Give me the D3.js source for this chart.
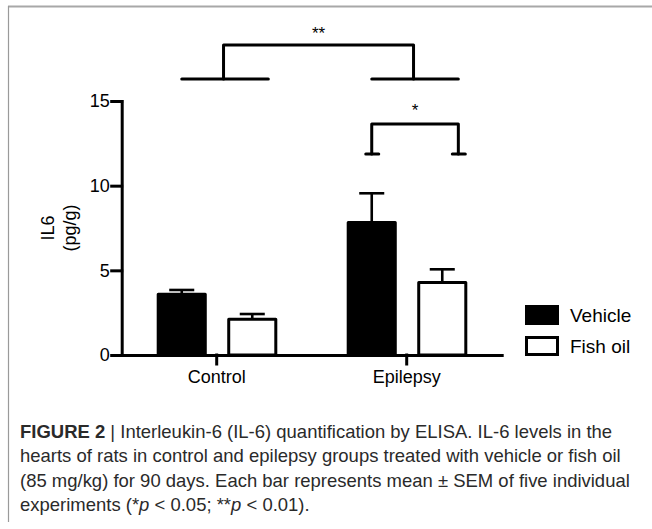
<!DOCTYPE html>
<html>
<head>
<meta charset="utf-8">
<script src="https://cdn.jsdelivr.net/npm/d3@7"></script>
<style>
  body { margin: 0; background: #fff; }
  svg { display: block; }
</style>
</head>
<body>
<svg id="canvas" width="652" height="529"></svg>
<script>
// values (pg/g)
let groups = ['Control', 'Epilepsy']
let series = ['Vehicle', 'Fish oil']
let vehicleMean = [3.68, 7.91]
let vehicleSem = [0.16, 1.64]
let fishOilMean = [2.20, 4.37]
let fishOilSem = [0.22, 0.69]
let yTicks = [0, 5, 10, 15]

// caption, one list of [text, kind] per line
let captionLines = [
  [['FIGURE 2', 'b'], [' | Interleukin-6 (IL-6) quantification by ELISA. IL-6 levels in the', 'n']],
  [['hearts of rats in control and epilepsy groups treated with vehicle or fish oil', 'n']],
  [['(85 mg/kg) for 90 days. Each bar represents mean \u00b1 SEM of five individual', 'n']],
  [['experiments (*', 'n'], ['p', 'i'], [' < 0.05; **', 'n'], ['p', 'i'], [' < 0.01).', 'n']]
]

let canvas = d3.select('#canvas')
let chartFont = '"Liberation Sans", Arial, sans-serif'

// frame
canvas.append('line').attr('x1', 8).attr('x2', 652).attr('y1', 6.5).attr('y2', 6.5)
  .attr('stroke', '#a8a8a8').attr('stroke-width', 2)
canvas.append('line').attr('x1', 8.5).attr('x2', 8.5).attr('y1', 6).attr('y2', 522)
  .attr('stroke', '#9a9a9a').attr('stroke-width', 1.2)

let y = d3.scaleLinear().domain([0, 15]).range([355, 101])
let x0 = d3.scaleBand().domain(groups).range([121.7, 501.7])
let x1 = d3.scaleBand().domain(series).range([35, 155.6]).paddingInner(0.29)
let bw = x1.bandwidth()

let rows = []
groups.forEach((g, i) => {
  rows.push({ group: g, s: 'Vehicle', mean: vehicleMean[i], sem: vehicleSem[i] })
  rows.push({ group: g, s: 'Fish oil', mean: fishOilMean[i], sem: fishOilSem[i] })
})

let barX = (d) => x0(d.group) + x1(d.s)

// error bars (behind the bars)
canvas.selectAll('.stem')
  .data(rows)
  .enter()
  .append('line')
  .attr('x1', (d) => barX(d) + bw / 2)
  .attr('x2', (d) => barX(d) + bw / 2)
  .attr('y1', (d) => y(d.mean) + 2)
  .attr('y2', (d) => y(d.mean + d.sem))
  .attr('stroke', '#000')
  .attr('stroke-width', 2.6)
canvas.selectAll('.cap')
  .data(rows)
  .enter()
  .append('line')
  .attr('x1', (d) => barX(d) + bw / 4)
  .attr('x2', (d) => barX(d) + bw * 3 / 4)
  .attr('y1', (d) => y(d.mean + d.sem))
  .attr('y2', (d) => y(d.mean + d.sem))
  .attr('stroke', '#000')
  .attr('stroke-width', 2.6)

canvas.selectAll('.bar')
  .data(rows)
  .enter()
  .append('rect')
  .attr('x', (d) => barX(d) + 1.5)
  .attr('y', (d) => y(d.mean) + 1.5)
  .attr('width', bw - 3)
  .attr('height', (d) => y(0) - y(d.mean) - 1.5)
  .attr('fill', (d) => d.s === 'Vehicle' ? '#000' : '#fff')
  .attr('stroke', '#000')
  .attr('stroke-width', 3)
  .attr('stroke-linejoin', 'round')

// axes
let yAxis = canvas.append('g')
  .attr('transform', 'translate(121.7,0)')
  .call(d3.axisLeft(y).tickValues(yTicks).tickSize(10).tickSizeOuter(0).tickPadding(2))
let xAxis = canvas.append('g')
  .attr('transform', 'translate(0,355)')
  .call(d3.axisBottom(x0).tickSize(9).tickSizeOuter(0).tickPadding(6))

canvas.selectAll('.domain, .tick line')
  .attr('stroke', '#000')
  .attr('stroke-width', 3)
  .attr('stroke-linecap', 'square')
canvas.selectAll('.tick text')
  .attr('fill', '#000')
  .style('font-family', chartFont)
  .style('font-size', '18px')

// y label
let yLabel = canvas.append('text')
  .attr('transform', 'translate(54,228) rotate(-90)')
  .attr('text-anchor', 'middle')
  .style('font-family', chartFont)
  .style('font-size', '18px')
yLabel.append('tspan').attr('x', 0).attr('y', 0).text('IL6')
yLabel.append('tspan').attr('x', 0).attr('y', 22).text('(pg/g)')

// significance brackets
let bracketLine = (pts) => {
  canvas.append('path')
    .attr('d', d3.line()(pts))
    .attr('fill', 'none')
    .attr('stroke', '#000')
    .attr('stroke-width', 3)
    .attr('stroke-linecap', 'round')
    .attr('stroke-linejoin', 'round')
}
let star = (x, yy, label) => {
  canvas.append('text')
    .attr('x', x).attr('y', yy)
    .attr('text-anchor', 'middle')
    .style('font-family', chartFont)
    .style('font-size', '17px')
    .text(label)
}

let spread = 86.6
let leftA = x0('Control') + x1('Vehicle') + bw / 2
let leftB = x0('Epilepsy') + x1('Vehicle') + bw / 2
bracketLine([[leftA, y(16.3)], [leftA + spread, y(16.3)]])
bracketLine([[leftB, y(16.3)], [leftB + spread, y(16.3)]])
let midA = leftA + spread / 2 - 1.5
let midB = leftB + spread / 2 - 1.5
bracketLine([[midA, y(16.3)], [midA, y(18.3)], [midB, y(18.3)], [midB, y(16.3)]])
star((midA + midB) / 2, y(18.3) - 6, '**')

bracketLine([[leftB, y(11.87)], [leftB, y(13.64)], [leftB + spread, y(13.64)], [leftB + spread, y(11.87)]])
bracketLine([[leftB - 6, y(11.87)], [leftB + 7, y(11.87)]])
bracketLine([[leftB + spread - 6, y(11.87)], [leftB + spread + 7, y(11.87)]])
star(leftB + spread / 2, y(13.64) - 8, '*')

// legend
let legend = canvas.selectAll('.leg')
  .data(series)
  .enter()
  .append('g')
  .attr('transform', (d, i) => 'translate(525,' + (305 + i * 31) + ')')
legend.append('rect')
  .attr('x', 1.5).attr('y', 1.5)
  .attr('width', 31).attr('height', 17)
  .attr('fill', (d) => d === 'Vehicle' ? '#000' : '#fff')
  .attr('stroke', '#000')
  .attr('stroke-width', 3)
legend.append('text')
  .attr('x', 45).attr('y', 17)
  .style('font-family', chartFont)
  .style('font-size', '19px')
  .text((d) => d)

// caption - the print uses a condensed face, so squeeze Liberation Sans sideways
let caption = canvas.append('g')
  .style('font-family', chartFont)
  .attr('fill', '#2a2a2a')
let capText = caption.selectAll('text')
  .data(captionLines)
  .enter()
  .append('text')
  .attr('x', 0)
  .attr('y', (d, i) => 438 + i * 24.5)
  .style('font-size', '18px')
capText.selectAll('tspan')
  .data((d) => d)
  .enter()
  .append('tspan')
  .style('font-weight', (d) => d[1] === 'b' ? 'bold' : 'normal')
  .style('font-style', (d) => d[1] === 'i' ? 'italic' : 'normal')
  .text((d) => d[0])

// second line ends near x = 621 in the print
let w2 = capText.nodes()[1].getComputedTextLength()
let squeeze = 601 / w2
caption.attr('transform', 'translate(20,0) scale(' + squeeze + ',1)')
console.log('caption squeeze ' + squeeze)
</script>
</body>
</html>
